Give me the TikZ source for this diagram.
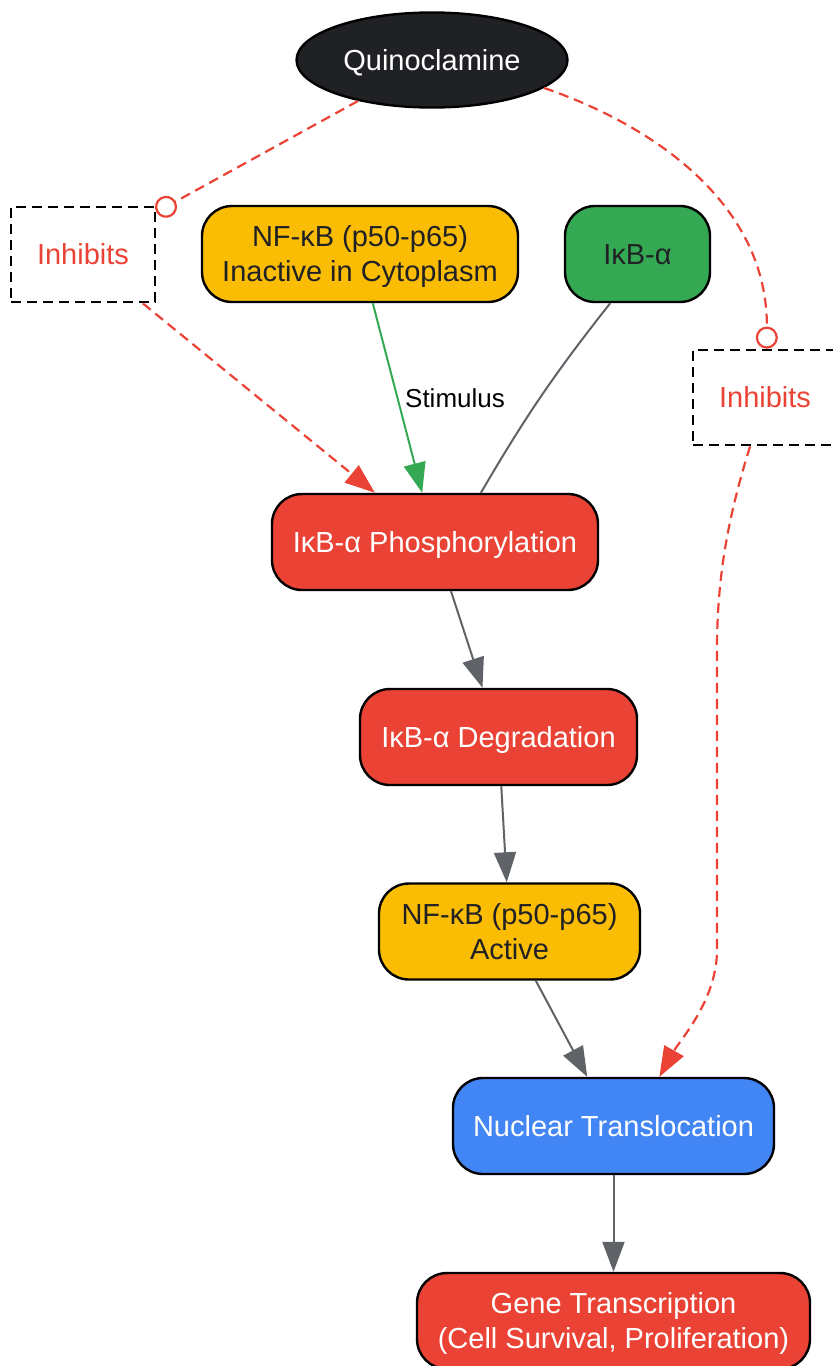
\documentclass[tikz,border=0pt]{standalone}
\usepackage{fontspec}
\setmainfont{Liberation Sans}
\usetikzlibrary{shapes.geometric, arrows.meta}
\definecolor{gred}{HTML}{EA4335}
\definecolor{gyellow}{HTML}{FBBC04}
\definecolor{ggreen}{HTML}{34A853}
\definecolor{gblue}{HTML}{4285F4}
\definecolor{gdark}{HTML}{202124}
\definecolor{gedge}{HTML}{5F6368}
\tikzstyle{drug} = [ellipse, minimum width=135.5pt, minimum height=47.5pt, inner sep=0pt, text height=12pt, text depth=2pt, text centered, draw=black, line width=1.2pt, fill=gdark, text=white]
\tikzstyle{inhibitbox} = [rectangle, minimum width=72pt, minimum height=47.5pt, text height=12pt, text depth=2pt, text centered, draw=black, line width=1.4pt, dash pattern=on 5pt off 3pt, text=gred]
\tikzstyle{protein} = [rectangle, rounded corners=15pt, minimum height=48pt, text height=12pt, text depth=2pt, align=center, draw=black, line width=1.2pt, fill=gyellow, text=gdark]
\tikzstyle{inhibitor} = [rectangle, rounded corners=15pt, minimum height=48pt, text height=12pt, text depth=2pt, align=center, draw=black, line width=1.2pt, fill=ggreen, text=gdark]
\tikzstyle{event} = [rectangle, rounded corners=15pt, minimum height=48pt, text height=12pt, text depth=2pt, align=center, draw=black, line width=1.2pt, fill=gred, text=white]
\tikzstyle{nuclear} = [rectangle, rounded corners=15pt, minimum height=48pt, text height=12pt, text depth=2pt, align=center, draw=black, line width=1.2pt, fill=gblue, text=white]
\tikzstyle{twoline} = [text height=29.5pt, text depth=2pt]
\tikzstyle{arrow} = [line width=1pt, gedge, -{Triangle[length=15pt, width=11pt]}]
\tikzstyle{stimarrow} = [line width=1pt, ggreen, -{Triangle[length=15pt, width=11pt]}]
\tikzstyle{bind} = [line width=1pt, gedge]
\tikzstyle{inhibit} = [line width=1.1pt, gred, dash pattern=on 5pt off 3pt, -{Circle[open, length=11pt, width=11pt]}]
\tikzstyle{inhibitarrow} = [line width=1.1pt, gred, dash pattern=on 5pt off 3pt, -{Triangle[length=15pt, width=11pt]}]

\begin{document}
\begin{tikzpicture}[x=0.5pt, y=0.5pt, font=\fontsize{14.5}{17.5}\selectfont]
\clip (0,0) rectangle (833,-1366);

% Nodes
\node (quino) at (432,-60) [drug] {Quinoclamine};
\node (inhL) at (83,-254.5) [inhibitbox] {Inhibits};
\node (nfkbI) at (360,-254) [protein, twoline, minimum width=158pt] {NF-κB (p50-p65)\\Inactive in Cytoplasm};
\node (ikba) at (637.5,-254) [inhibitor, minimum width=72.5pt] {IκB-α};
\node (inhR) at (765,-397.5) [inhibitbox] {Inhibits};

\node (phos) at (435,-542) [event, minimum width=163pt] {IκB-α Phosphorylation};
\node (deg) at (498.5,-737) [event, minimum width=138.5pt] {IκB-α Degradation};
\node (active) at (509.5,-931.5) [protein, twoline, minimum width=130.5pt] {NF-κB (p50-p65)\\Active};
\node (nuc) at (613.5,-1126) [nuclear, minimum width=160.5pt] {Nuclear Translocation};
\node (gene) at (613.5,-1321) [event, twoline, minimum width=196.5pt] {Gene Transcription\\(Cell Survival, Proliferation)};

% Arrows
\draw [inhibit] (quino.209) -- (inhL.30.5);
\draw [inhibitarrow] (inhL) -- (phos);
\draw [inhibit] (quino.-14) .. controls (655,-126) and (768,-205) .. (inhR.88);
\draw [inhibitarrow] (inhR.253) .. controls (727,-520) and (717,-580) .. (717,-650) -- (717,-950) .. controls (717,-1000) and (680,-1040) .. (nuc.47);

\draw [stimarrow] (nfkbI) -- node[midway, right, text=black, font=\fontsize{13}{15}\selectfont] {Stimulus} (phos);
\draw [bind] (ikba.241) to[bend right=4] (phos.47);

\draw [arrow] (phos) -- (deg);
\draw [arrow] (deg) -- (active);
\draw [arrow] (active) -- (nuc);
\draw [arrow] (nuc) -- (gene);

\end{tikzpicture}
\end{document}
